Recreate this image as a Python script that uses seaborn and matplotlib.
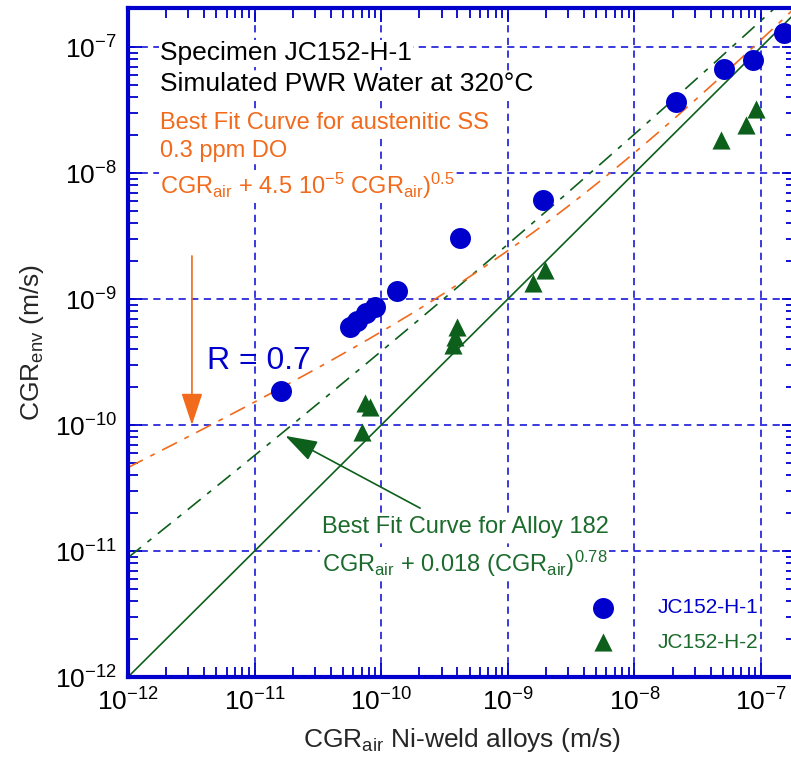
import numpy as np
import pandas as pd
import matplotlib
matplotlib.use("Agg")
import matplotlib.pyplot as plt
import seaborn as sns
from matplotlib.ticker import LogLocator, NullFormatter

# CGR data (m/s)
# JC152-H-1 (blue circles)
h1_air = [1.62e-11, 5.67e-11, 6.44e-11, 7.59e-11, 8.93e-11, 1.33e-10,
          4.19e-10, 1.90e-9, 2.13e-8, 5.1e-8, 8.65e-8, 1.52e-7]
h1_env = [1.86e-10, 6.0e-10, 6.68e-10, 7.74e-10, 8.65e-10, 1.16e-9,
          3.05e-9, 6.1e-9, 3.66e-8, 6.68e-8, 7.9e-8, 1.29e-7]
# JC152-H-2 (green triangles)
h2_air = [7.05e-11, 7.44e-11, 8.16e-11, 3.69e-10, 3.83e-10, 3.97e-10,
          1.58e-9, 1.97e-9, 4.83e-8, 7.62e-8, 9.14e-8]
h2_env = [8.8e-11, 1.50e-10, 1.39e-10, 4.32e-10, 4.99e-10, 6.0e-10,
          1.34e-9, 1.70e-9, 1.83e-8, 2.40e-8, 3.22e-8]
specimens = ['JC152-H-1', 'JC152-H-2']

# decade ticks shown on both axes
decades = [1e-12, 1e-11, 1e-10, 1e-9, 1e-8, 1e-7]

# best fit curves: CGR_env = CGR_air + coef * CGR_air ** exp
ss_coef, ss_exp = 4.5e-5, 0.5        # austenitic SS, 0.3 ppm DO
a182_coef, a182_exp = 0.018, 0.78    # Alloy 182

# annotation arrows (tail, head) in data units
ss_arrow = ((3.2e-12, 2.2e-9), (3.2e-12, 1.0e-10))
a182_arrow = ((2.03e-10, 2.19e-11), (1.75e-11, 8.2e-11))

# right edge of the axes sits just past the figure edge (cropped in the original)
x_range = (1e-12, 10 ** -6.724)
y_range = (1e-12, 10 ** -6.69)

BLUE = '#0000cc'
GRID = '#2b2bdc'
GREEN = '#0d5f1c'
GREEN_TXT = '#1b6b2c'
ORANGE = '#f26a1b'

sns.set_theme(style='white')
plt.rcParams['font.family'] = ['Liberation Sans', 'DejaVu Sans']
plt.rcParams['mathtext.fontset'] = 'custom'
plt.rcParams['mathtext.rm'] = 'Liberation Sans'
plt.rcParams['mathtext.it'] = 'Liberation Sans:italic'
plt.rcParams['mathtext.bf'] = 'Liberation Sans:bold'

fig = plt.figure(figsize=(7.91, 7.74), dpi=100)
ax = fig.add_axes([0.1618, 0.1253, 0.8445, 0.8643])
ax.set_xscale('log')
ax.set_yscale('log')

# fit curves
xs = np.logspace(-12, -6.5, 400)
ax.plot(xs, xs, color=GREEN, lw=1.2, zorder=3)
ax.plot(xs, xs + a182_coef * xs ** a182_exp, color=GREEN, lw=1.2,
        dashes=(10, 5, 3, 5), zorder=3)
ax.plot(xs, xs + ss_coef * xs ** ss_exp, color=ORANGE, lw=1.2,
        dashes=(10, 5, 3, 5), zorder=3)

# data points
sns.scatterplot(x=h1_air, y=h1_env, marker='o', color=BLUE, s=228,
                linewidth=0, ax=ax, zorder=5, label=specimens[0])
sns.scatterplot(x=h2_air, y=h2_env, marker='^', color=GREEN, s=170,
                linewidth=0, ax=ax, zorder=5, label=specimens[1])

# ticks, grid, spines
ax.set_xticks(decades)
ax.set_yticks(decades)
for axis in (ax.xaxis, ax.yaxis):
    axis.set_minor_locator(LogLocator(base=10, subs=np.arange(2, 10), numticks=20))
    axis.set_minor_formatter(NullFormatter())
ax.set_xlim(*x_range)
ax.set_ylim(*y_range)
ax.tick_params(which='both', direction='in', bottom=True, left=True, top=True,
               right=True, color=BLUE, labelcolor='black', labelsize=19)
ax.tick_params(which='major', length=10, width=1.3, pad=8)
ax.tick_params(which='minor', length=7, width=1.3)
ax.grid(True, which='major', color=GRID, ls=(0, (4, 3)), lw=1.3)
ax.set_axisbelow(True)
for sp in ax.spines.values():
    sp.set_color(BLUE)
    sp.set_linewidth(3)
    sp.set_zorder(6)

ax.set_xlabel('CGR$_{\\mathrm{air}}$ Ni-weld alloys (m/s)', fontsize=19, labelpad=8)
ax.set_ylabel('CGR$_{\\mathrm{env}}$ (m/s)', fontsize=19, labelpad=6)

# text annotations (axes fractions)
box = dict(fc='white', ec='none', pad=1)
ax.text(0.048, 0.922, 'Specimen JC152-H-1', transform=ax.transAxes,
        fontsize=19, color='black', bbox=box, zorder=4)
ax.text(0.048, 0.876, 'Simulated PWR Water at 320\u00b0C', transform=ax.transAxes,
        fontsize=19, color='black', bbox=box, zorder=4)
ax.text(0.048, 0.819, 'Best Fit Curve for austenitic SS', transform=ax.transAxes,
        fontsize=17, color=ORANGE, bbox=box, zorder=4)
ax.text(0.048, 0.777, '0.3 ppm DO', transform=ax.transAxes,
        fontsize=17, color=ORANGE, bbox=box, zorder=4)
ax.text(0.048, 0.722,
        'CGR$_{\\mathrm{air}}$ + 4.5 10$^{\\mathrm{-5}}$ CGR$_{\\mathrm{air}}$)$^{\\mathrm{0.5}}$',
        transform=ax.transAxes, fontsize=17, color=ORANGE, bbox=box, zorder=4)
ax.text(0.118, 0.460, 'R = 0.7', transform=ax.transAxes,
        fontsize=23, color=BLUE, zorder=4)
ax.text(0.290, 0.215, 'Best Fit Curve for Alloy 182', transform=ax.transAxes,
        fontsize=17, color=GREEN_TXT, bbox=box, zorder=4)
ax.text(0.290, 0.157,
        'CGR$_{\\mathrm{air}}$ + 0.018 (CGR$_{\\mathrm{air}}$)$^{\\mathrm{0.78}}$',
        transform=ax.transAxes, fontsize=17, color=GREEN_TXT, bbox=box, zorder=4)

arrow_style = '-|>,head_length=1.0,head_width=0.33'
ax.annotate('', xy=ss_arrow[1], xytext=ss_arrow[0],
            arrowprops=dict(arrowstyle=arrow_style, color=ORANGE, lw=1.2,
                            mutation_scale=20, shrinkA=0, shrinkB=0), zorder=4)
ax.annotate('', xy=a182_arrow[1], xytext=a182_arrow[0],
            arrowprops=dict(arrowstyle=arrow_style, color=GREEN, lw=1.2,
                            mutation_scale=20, shrinkA=0, shrinkB=0), zorder=4)

ax.legend(loc='upper left', bbox_to_anchor=(0.6675, 0.13), frameon=False,
          fontsize=15, labelcolor=[BLUE, GREEN_TXT], handletextpad=1.6,
          labelspacing=0.74, borderaxespad=0)

fig.savefig('out.png', dpi=100)
